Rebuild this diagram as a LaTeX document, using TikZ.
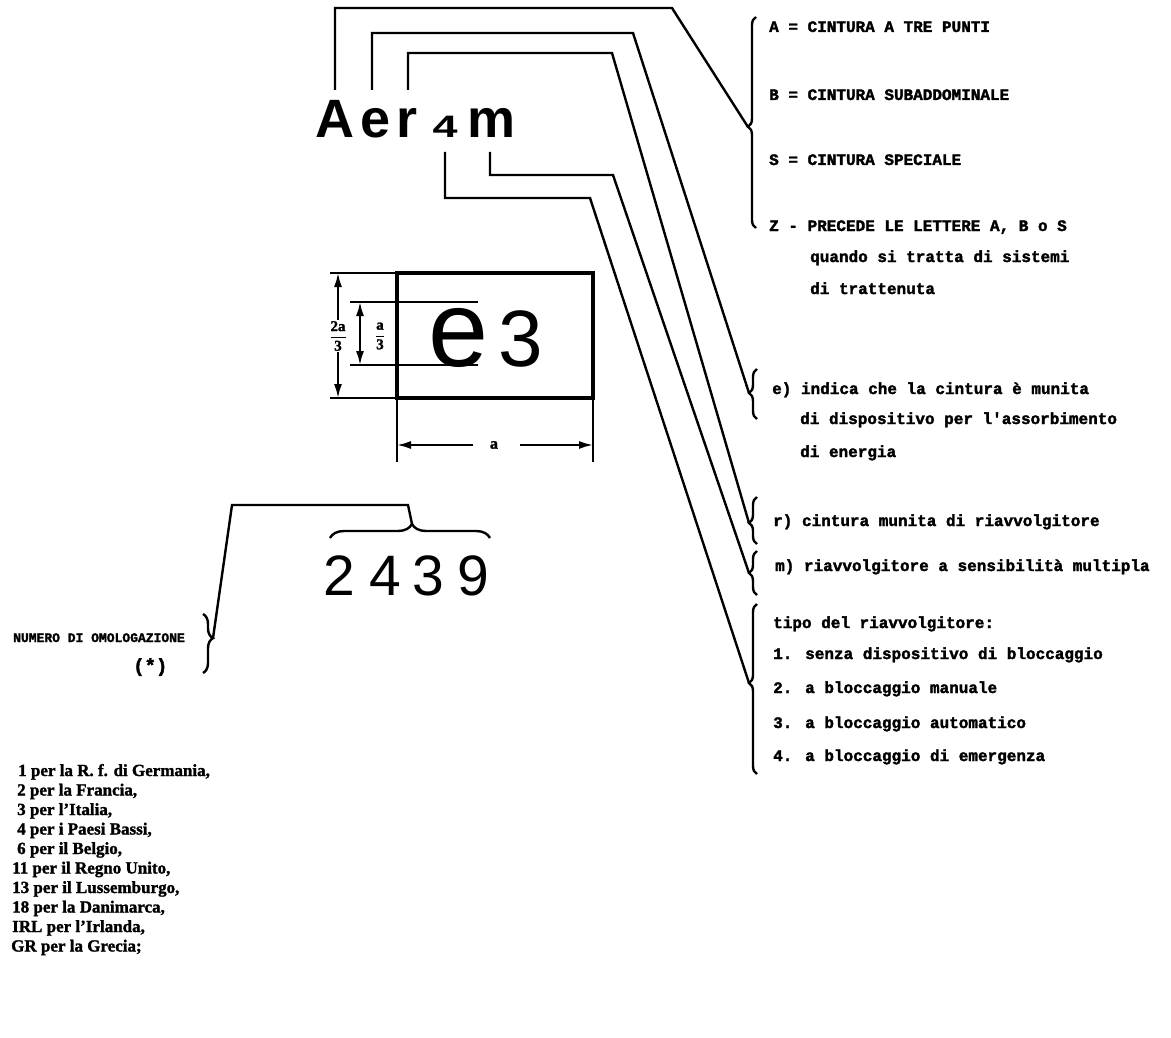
\documentclass[tikz,border=0pt]{standalone}
\usepackage{fontspec}
\usepackage{graphicx}
\setmainfont[BoldFeatures={FakeBold=1.5}]{Liberation Serif}
\newfontfamily\monof[BoldFeatures={FakeBold=2}]{Liberation Mono}
\newfontfamily\sansf{Liberation Sans}
\usetikzlibrary{arrows.meta,decorations.pathreplacing}
\tikzset{
  lead/.style={line width=2.4pt},
  brc/.style 2 args={line width=2.4pt, decorate, decoration={brace, amplitude=#2, aspect=#1}},
  tw/.style={font=\monof\bfseries\fontsize{16}{18}\selectfont, anchor=base west, inner sep=0pt},
  twsmall/.style={font=\monof\bfseries\fontsize{13}{15}\selectfont, anchor=base west, inner sep=0pt},
  twbig/.style={font=\monof\bfseries\fontsize{19}{21}\selectfont, anchor=base west, inner sep=0pt},
  cty/.style={font=\bfseries\fontsize{17}{19}\selectfont, anchor=base west, inner sep=0pt},
  bigl/.style={font=\sansf\bfseries\fontsize{54}{60}\selectfont, anchor=base, inner sep=0pt},
  digl/.style={font=\sansf\bfseries\fontsize{31}{34}\selectfont, anchor=base, inner sep=0pt},
  numl/.style={font=\sansf\fontsize{57}{62}\selectfont, anchor=base, inner sep=0pt},
  dim/.style={line width=2pt, >={Latex[length=14pt,width=8pt]}},
}
\begin{document}
\begin{tikzpicture}[x=1pt,y=-1pt]
\fill[white] (0,0) rectangle (1171,1038);
\useasboundingbox (0,0) rectangle (1171,1038);

% ---- Aer4m ----
\node[bigl] (lA) at (335,138) {A};
\node[bigl] (le) at (376,138) {e};
\node[bigl] (lr) at (407.5,138) {r};
\node[digl] (l4) at (445,138) {\scalebox{1.45}[1]{4}};
\node[bigl] (lm) at (492,138) {m};

\coordinate (sA) at (335,90);
\coordinate (se) at (372,90);
\coordinate (sr) at (408,90);
\coordinate (s4) at (445,152);
\coordinate (sm) at (490,152);
\coordinate (kA) at (672,8);
\coordinate (ke) at (633,33);
\coordinate (kr) at (612,53);
\coordinate (km) at (613,175);
\coordinate (k4) at (590,198);

% ---- right braces ----
\draw[brc={0.48}{8pt}] (756,228) -- (756,17);
\coordinate (tA) at (748,127);
\draw[brc={0.52}{8pt}] (757,419) -- (757,369);
\coordinate (te) at (749,393);
\draw[brc={0.45}{8pt}] (757,544) -- (757,497);
\coordinate (tr) at (749,523);
\draw[brc={0.5}{8pt}] (757,595) -- (757,551);
\coordinate (tm) at (749,573);
\draw[brc={0.535}{8pt}] (757,774) -- (757,604);
\coordinate (t4) at (749,683);

\draw[lead] (sA) |- (kA) -- (tA);
\draw[lead] (se) |- (ke) -- (te);
\draw[lead] (sr) |- (kr) -- (tr);
\draw[lead] (sm) |- (km) -- (tm);
\draw[lead] (s4) |- (k4) -- (t4);

% ---- right texts ----
\node[tw] (xA) at (769,32) {A = CINTURA A TRE PUNTI};
\node[tw] (xB) at (769,100) {B = CINTURA SUBADDOMINALE};
\node[tw] (xS) at (769,165) {S = CINTURA SPECIALE};
\node[tw] (xZ) at (769,231) {Z - PRECEDE LE LETTERE A, B o S};
\node[tw] (xZ2) at (810,262) {quando si tratta di sistemi};
\node[tw] (xZ3) at (810,294) {di trattenuta};
\node[tw] (xe1) at (772,394) {e) indica che la cintura è munita};
\node[tw] (xe2) at (800,424) {di dispositivo per l'assorbimento};
\node[tw] (xe3) at (800,457) {di energia};
\node[tw] (xr) at (773,526) {r) cintura munita di riavvolgitore};
\node[tw] (xm) at (775,571) {m) riavvolgitore a sensibilità multipla};
\node[tw] (xt0) at (773,628) {tipo del riavvolgitore:};
\node[tw] (xt1) at (773,659) {1. senza dispositivo di bloccaggio};
\node[tw] (xt2) at (773,693) {2. a bloccaggio manuale};
\node[tw] (xt3) at (773,728) {3. a bloccaggio automatico};
\node[tw] (xt4) at (773,761) {4. a bloccaggio di emergenza};

% ---- e3 box ----
\node[draw, line width=4.5pt, minimum width=196pt, minimum height=125pt, inner sep=0pt, outer sep=0pt] (box) at (495,335.5) {};
\node[font=\sansf\fontsize{108}{110}\selectfont, anchor=base, inner sep=0pt] (ee) at (458.5,366) {e};
\node[font=\sansf\fontsize{80}{84}\selectfont, anchor=base, inner sep=0pt] (e3) at (521,366) {3};

\draw[dim] (330,273) -- (box.north west);
\draw[dim] (330,398) -- (box.south west);
\draw[dim] (box.south west) -- ++(0,64);
\draw[dim] (box.south east) -- ++(0,64);
\draw[dim] (350,302) -- (478,302);
\draw[dim] (350,365) -- (478,365);
\draw[dim, <->] (338,273) -- (338,398);
\node[fill=white, inner sep=1pt, font=\fontsize{15}{17}\selectfont] (f2a) at (338,336) {$\displaystyle\mathbf{\frac{2a}{3}}$};
\draw[dim, <->] (360,302) -- (360,365);
\node[inner sep=1pt, font=\fontsize{15}{17}\selectfont] (fa) at (380,336) {$\displaystyle\mathbf{\frac{a}{3}}$};
\node[inner sep=0pt, font=\bfseries\fontsize{16}{18}\selectfont] (la) at (494,445) {a};
\draw[dim, ->] ([xshift=-21pt]la.center) -- (la.center -| box.south west);
\draw[dim, ->] ([xshift=26pt]la.center) -- (la.center -| box.south east);

% ---- 2439 ----
\node[numl] (d2) at (339,595) {2};
\node[numl] (d4) at (385.5,595) {4};
\node[numl] (d3) at (428.5,595) {3};
\node[numl] (d9) at (473.5,595) {9};
\draw[brc={0.5125}{14pt}] (330,538) -- (490,538);
\coordinate (tb) at (412,524);
\coordinate (k1) at (408,505);
\coordinate (k2) at (232,505);
\draw[brc={0.41}{10pt}] (203,614) -- (203,673);
\coordinate (tN) at (213,638);
\draw[lead] (tb) -- (k1) -- (k2) -- (tN);

\node[twsmall] (num) at (13,642) {NUMERO DI OMOLOGAZIONE};
\node[twbig] (ast) at (133,672) {(*)};

% ---- countries ----
\node[cty] (c1) at (18,776) {1 per la R. f. di Germania,};
\node[cty] (c2) at (17,795.5) {2 per la Francia,};
\node[cty] (c3) at (17,815) {3 per l'Italia,};
\node[cty] (c4) at (17,834.5) {4 per i Paesi Bassi,};
\node[cty] (c6) at (17,854) {6 per il Belgio,};
\node[cty] (c11) at (12,873.5) {11 per il Regno Unito,};
\node[cty] (c13) at (12,893) {13 per il Lussemburgo,};
\node[cty] (c18) at (12,912.5) {18 per la Danimarca,};
\node[cty] (cirl) at (12,932) {IRL per l'Irlanda,};
\node[cty] (cgr) at (11,951.5) {GR per la Grecia;};
\end{tikzpicture}
\end{document}
